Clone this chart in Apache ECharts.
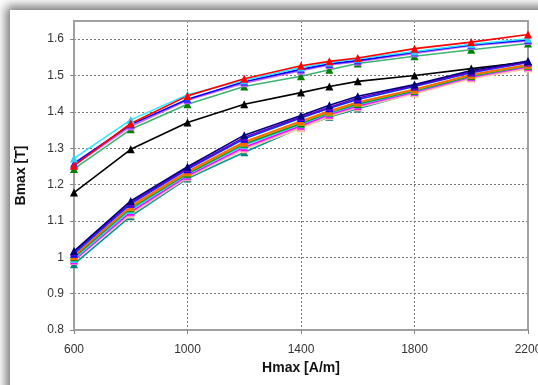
<!DOCTYPE html>
<html>
<head>
<meta charset="utf-8">
<script src="https://cdn.jsdelivr.net/npm/echarts@6/dist/echarts.min.js"></script>
<style>
  html, body { margin: 0; padding: 0; background: #fff; overflow: hidden; }
  .card {
    position: absolute; left: 10px; top: 10px; width: 620px; height: 420px;
    background: #fff; box-shadow: -2px -2px 10px 2px rgba(0, 0, 0, 0.55);
  }
  #chart { position: absolute; left: 0; top: 0; width: 538px; height: 385px; }
</style>
</head>
<body>
<div class="card"></div>
<div id="chart"></div>
<script>
const hmax = [600, 800, 1000, 1200, 1400, 1500, 1600, 1800, 2000, 2200]

// upper group
const cyanHi = [1.272, 1.378, 1.447, 1.487, 1.522, 1.536, 1.546, 1.566, 1.586, 1.601]
const redHi = [1.252, 1.368, 1.444, 1.491, 1.527, 1.539, 1.548, 1.574, 1.592, 1.613]
const blueHi = [1.258, 1.365, 1.435, 1.483, 1.517, 1.532, 1.541, 1.564, 1.584, 1.598]
const violetHi = [1.253, 1.360, 1.432, 1.479, 1.513, 1.529, 1.538, 1.561, 1.582, 1.595]
const greenHi = [1.243, 1.352, 1.421, 1.470, 1.498, 1.516, 1.533, 1.553, 1.571, 1.588]
const blackMid = [1.178, 1.297, 1.371, 1.421, 1.453, 1.470, 1.484, 1.500, 1.519, 1.537]

// lower group
const navyLo = [1.017, 1.155, 1.249, 1.336, 1.390, 1.418, 1.443, 1.475, 1.514, 1.540]
const purpleLo = [1.015, 1.150, 1.245, 1.330, 1.386, 1.413, 1.438, 1.472, 1.510, 1.537]
const blueLo = [1.010, 1.147, 1.242, 1.326, 1.383, 1.410, 1.434, 1.470, 1.508, 1.536]
const orangeLo = [1.003, 1.141, 1.236, 1.318, 1.375, 1.403, 1.427, 1.462, 1.503, 1.530]
const goldLo = [1.005, 1.138, 1.233, 1.315, 1.372, 1.400, 1.425, 1.460, 1.501, 1.528]
const greenLo = [1.000, 1.135, 1.230, 1.312, 1.368, 1.398, 1.422, 1.458, 1.499, 1.527]
const cyanLo = [0.995, 1.130, 1.228, 1.308, 1.366, 1.396, 1.420, 1.457, 1.498, 1.526]
const magentaLo = [0.992, 1.125, 1.224, 1.303, 1.362, 1.393, 1.416, 1.455, 1.496, 1.524]
const pinkLo = [0.990, 1.122, 1.222, 1.300, 1.360, 1.391, 1.414, 1.453, 1.494, 1.522]
const peachLo = [0.994, 1.118, 1.220, 1.297, 1.355, 1.388, 1.412, 1.450, 1.491, 1.519]
const tealLo = [0.981, 1.113, 1.217, 1.289, 1.357, 1.386, 1.409, 1.452, 1.493, 1.521]

const seriesDefs = [
  { data: greenHi, line: '#3cb371', mark: '#008000' },
  { data: violetHi, line: '#cc66ff', mark: '#cc66ff' },
  { data: blueHi, line: '#0000ff', mark: '#3333ff' },
  { data: cyanHi, line: '#33e6ff', mark: '#33ccff' },
  { data: redHi, line: '#ff0000', mark: '#ff0000' },
  { data: blackMid, line: '#000000', mark: '#000000' },
  { data: tealLo, line: '#009999', mark: '#008080' },
  { data: peachLo, line: '#ffcc99', mark: '#ffcc99' },
  { data: pinkLo, line: '#ff99cc', mark: '#ff99cc' },
  { data: magentaLo, line: '#ff00ff', mark: '#ff00ff' },
  { data: cyanLo, line: '#33ccff', mark: '#33ccff' },
  { data: greenLo, line: '#009933', mark: '#008000' },
  { data: goldLo, line: '#cc9900', mark: '#cc9900' },
  { data: orangeLo, line: '#ff6600', mark: '#ff6600' },
  { data: blueLo, line: '#0033ff', mark: '#0000ff' },
  { data: purpleLo, line: '#6600cc', mark: '#6600cc' },
  { data: navyLo, line: '#000080', mark: '#000080' },
]

const chart = echarts.init(document.getElementById('chart'))
const axisFont = { color: '#333', fontSize: 12, fontFamily: 'Liberation Sans' }
const dotted = { color: '#777', width: 1, type: [2, 2] }
const frame = { color: '#a0a0a0', width: 2 }

chart.setOption({
  animation: false,
  grid: { left: 74, top: 21, right: 10, bottom: 55, outerBoundsMode: 'none' },
  xAxis: [
    {
      type: 'value', min: 600, max: 2200, interval: 400,
      name: 'Hmax [A/m]', nameLocation: 'middle', nameGap: 28,
      nameTextStyle: { fontSize: 14, fontWeight: 'bold', color: '#111', fontFamily: 'Liberation Sans' },
      axisLine: { lineStyle: frame },
      axisTick: { show: true, length: 4, lineStyle: { color: '#888' } },
      axisLabel: { ...axisFont, margin: 14, formatter: v => String(v) },
      splitLine: { show: true, lineStyle: dotted },
    },
    {
      type: 'value', position: 'top', min: 600, max: 2200,
      axisLine: { show: true, lineStyle: frame },
      axisTick: { show: false }, axisLabel: { show: false }, splitLine: { show: false },
    },
  ],
  yAxis: [
    {
      type: 'value', min: 0.8, max: 1.65, interval: 0.1,
      name: 'Bmax [T]', nameLocation: 'middle', nameGap: 46,
      nameTextStyle: { fontSize: 14, fontWeight: 'bold', color: '#111', fontFamily: 'Liberation Sans' },
      axisLine: { show: true, lineStyle: frame },
      axisTick: { show: true, length: 4, lineStyle: { color: '#888' } },
      axisLabel: { ...axisFont, margin: 10, showMaxLabel: false, formatter: v => String(+v.toFixed(2)) },
      splitLine: { show: true, lineStyle: dotted },
    },
    {
      type: 'value', position: 'right', min: 0.8, max: 1.65,
      axisLine: { show: true, lineStyle: frame },
      axisTick: { show: false }, axisLabel: { show: false }, splitLine: { show: false },
    },
  ],
  series: seriesDefs.map(s => ({
    type: 'line',
    data: hmax.map((h, i) => [h, s.data[i]]),
    symbol: 'triangle',
    symbolSize: 8,
    lineStyle: { color: s.line, width: 1.6 },
    itemStyle: { color: s.mark },
  })),
})
</script>
</body>
</html>
